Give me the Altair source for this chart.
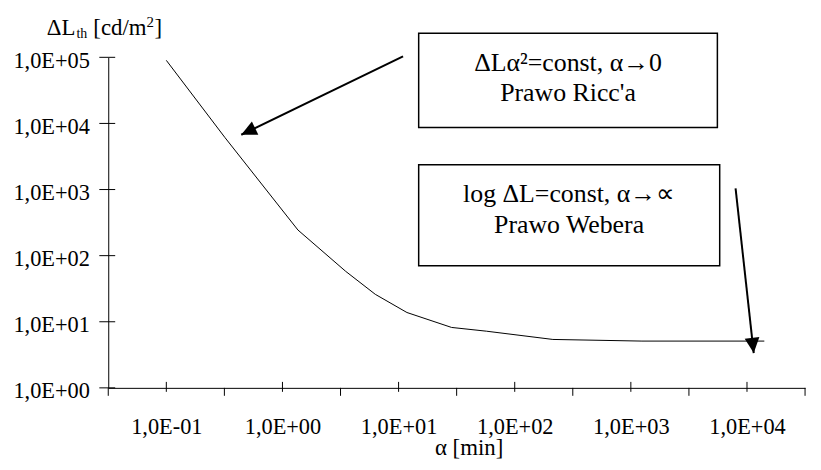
import math
import altair as alt
import pandas as pd

# ---- curve data ----
alpha_min = [0.1, 0.32, 1.36, 3.5, 6.3, 11.8, 28.6, 57, 213, 1245, 14100]
delta_L = [90000, 6100, 244, 58, 26, 13.8, 8.2, 7.2, 5.4, 5.1, 5.1]

# ---- axes ----
x_major_ticks = [0.1, 1, 10, 100, 1000, 10000]
x_major_labels = ["1,0E-01", "1,0E+00", "1,0E+01", "1,0E+02", "1,0E+03", "1,0E+04"]
x_minor_exp = [-1.5, -0.5, 0.5, 1.5, 2.5, 3.5, 4.5]
y_ticks = [1, 10, 100, 1000, 10000, 100000]
y_tick_labels = ["1,0E+00", "1,0E+01", "1,0E+02", "1,0E+03", "1,0E+04", "1,0E+05"]
x_title = "α [min]"
y_title_main = "ΔL"
y_title_sub = "th"
y_title_unit = "[cd/m"
y_title_sup = "2"
y_title_end = "]"

# ---- annotations (positions in log10 data units) ----
box_line1 = ["ΔLα²=const, α→0", "log ΔL=const, α→∝"]
box_line2 = ["Prawo Ricc'a", "Prawo Webera"]
box_x0_exp = [1.173, 1.173]
box_x1_exp = [3.745, 3.765]
box_ytop_exp = [5.365, 3.374]
box_ybot_exp = [3.938, 1.847]
text_x_exp = [2.459, 2.468]
text_l1_y_exp = [4.79, 2.808]
text_l2_y_exp = [4.339, 2.342]

arrow_x0_exp = [1.0385, 3.9017]
arrow_y0_exp = [5.015, 3.018]
arrow_x1_exp = [-0.3547, 4.058]
arrow_y1_exp = [3.8288, 0.5255]

# ---- layout ----
W, H = 702, 333
X_DEC = W / 6.0
Y_DEC = H / 5.0
FONT = "Liberation Serif"

xscale = alt.Scale(type="log", domain=[10 ** -1.5, 10 ** 4.5], nice=False)
yscale = alt.Scale(type="log", domain=[1, 100000], nice=False)


def label_expr(vals, labels):
    expr = "''"
    for v, l in reversed(list(zip(vals, labels))):
        expr = f"(datum.value == {v!r} ? '{l}' : {expr})"
    return expr


xaxis = alt.Axis(
    values=x_major_ticks, labelExpr=label_expr(x_major_ticks, x_major_labels),
    ticks=False, tickSize=0, grid=False, domainColor="black", domainWidth=1,
    labelFont=FONT, labelFontSize=22.5, labelColor="black",
    labelBaseline="alphabetic", labelPadding=46, labelFlush=False, labelOverlap=False,
    title=x_title, titleFont=FONT, titleFontSize=23, titleFontWeight="normal",
    titleColor="black", titleX=363, titleY=67, titleBaseline="alphabetic",
    titleAlign="center")
yaxis = alt.Axis(
    values=y_ticks, labelExpr=label_expr(y_ticks, y_tick_labels),
    ticks=False, tickSize=0, grid=False, domainColor="black", domainWidth=1,
    labelFont=FONT, labelFontSize=22.5, labelColor="black",
    labelBaseline="alphabetic", labelOffset=10, labelPadding=19,
    labelFlush=False, labelOverlap=False, title=None)


def X(field):
    return alt.X(field, type="quantitative", scale=xscale, axis=xaxis)


def Y(field):
    return alt.Y(field, type="quantitative", scale=yscale, axis=yaxis)


curve_df = pd.DataFrame({"a": alpha_min, "L": delta_L})
curve = alt.Chart(curve_df).mark_line(color="black", strokeWidth=1).encode(
    x=X("a"), y=Y("L"), order=alt.Order("a:Q"))

# ticks
ytick_df = pd.DataFrame({"v": y_ticks})
yticks = alt.Chart(ytick_df).mark_rule(color="black", strokeWidth=1).encode(
    y=Y("v"), x=alt.value(-9), x2=alt.value(7))
xmaj_df = pd.DataFrame({"v": x_major_ticks})
xmaj = alt.Chart(xmaj_df).mark_rule(color="black", strokeWidth=1).encode(
    x=X("v"), y=alt.value(H - 6), y2=alt.value(H + 4))
xmin_df = pd.DataFrame({"v": [10 ** e for e in x_minor_exp]})
xmin = alt.Chart(xmin_df).mark_rule(color="black", strokeWidth=1).encode(
    x=X("v"), y=alt.value(H), y2=alt.value(H + 8))

# boxes
box_df = pd.DataFrame({
    "x0": [10 ** v for v in box_x0_exp], "x1": [10 ** v for v in box_x1_exp],
    "y0": [10 ** v for v in box_ytop_exp], "y1": [10 ** v for v in box_ybot_exp],
})
boxes = alt.Chart(box_df).mark_rect(fill="white", stroke="black", strokeWidth=1.5).encode(
    x=X("x0"), x2="x1:Q", y=Y("y0"), y2="y1:Q")

txt_rows = []
for i in range(2):
    txt_rows.append({"x": 10 ** text_x_exp[i], "y": 10 ** text_l1_y_exp[i], "t": box_line1[i]})
    txt_rows.append({"x": 10 ** text_x_exp[i], "y": 10 ** text_l2_y_exp[i], "t": box_line2[i]})
txt_df = pd.DataFrame(txt_rows)
box_text = alt.Chart(txt_df).mark_text(
    font=FONT, fontSize=26, align="center", baseline="alphabetic", color="black").encode(
    x=X("x"), y=Y("y"), text="t:N")

# arrows
arr_rows = []
head_rows = []
for i in range(2):
    arr_rows.append({"id": i, "k": 0, "x": 10 ** arrow_x0_exp[i], "y": 10 ** arrow_y0_exp[i]})
    arr_rows.append({"id": i, "k": 1, "x": 10 ** arrow_x1_exp[i], "y": 10 ** arrow_y1_exp[i]})
    dx = (arrow_x1_exp[i] - arrow_x0_exp[i]) * X_DEC
    dy = -(arrow_y1_exp[i] - arrow_y0_exp[i]) * Y_DEC
    ang = math.degrees(math.atan2(dy, dx)) % 360
    head_rows.append({"x": 10 ** arrow_x1_exp[i], "y": 10 ** arrow_y1_exp[i], "ang": ang})
arr_df = pd.DataFrame(arr_rows)
head_df = pd.DataFrame(head_rows)
arrows = alt.Chart(arr_df).mark_line(color="black", strokeWidth=2).encode(
    x=X("x"), y=Y("y"), detail="id:N", order="k:Q")
heads = alt.Chart(head_df).mark_point(
    shape="M0,0 L-1,-0.48 L-1,0.48 Z", filled=True, color="black", opacity=1, size=960,
    strokeWidth=0).encode(
    x=X("x"), y=Y("y"), angle=alt.Angle("ang:Q", scale=None))

# y title pieces
one = pd.DataFrame({"d": [0]})


def title_piece(txt, size, px, py):
    return alt.Chart(one).mark_text(font=FONT, fontSize=size, align="left",
                                    baseline="alphabetic", color="black", text=txt).encode(
        x=alt.value(px), y=alt.value(py))


yt1 = title_piece(y_title_main, 23, -62, -22)
yt2 = title_piece(y_title_sub, 14, -32, -19)
yt3 = title_piece(y_title_unit, 23, -15, -22)
yt4 = title_piece(y_title_sup, 15, 38.5, -31)
yt5 = title_piece(y_title_end, 23, 46.5, -22)

chart = alt.layer(curve, yticks, xmaj, xmin, boxes, box_text, arrows, heads,
                  yt1, yt2, yt3, yt4, yt5).properties(
    width=W, height=H,
    autosize=alt.AutoSizeParams(type="none"),
    padding={"left": 101, "top": 48, "right": 8, "bottom": 73},
).configure_view(stroke=None)

chart.save("out.html", embed_options={"renderer": "svg", "actions": False})
